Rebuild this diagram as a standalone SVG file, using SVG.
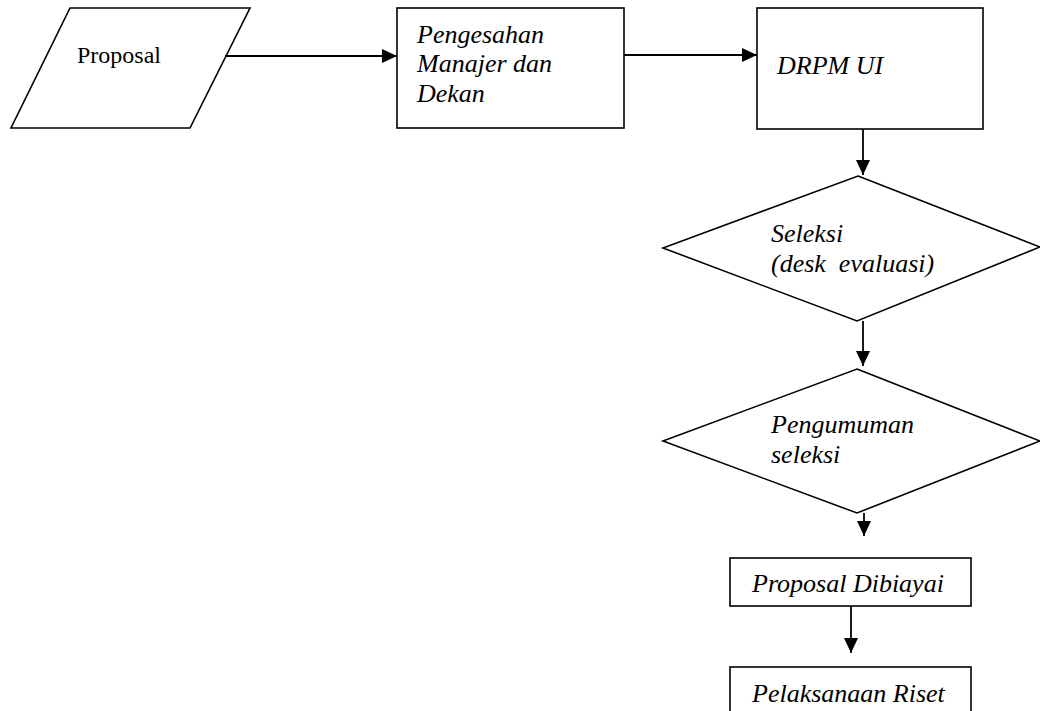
<svg xmlns="http://www.w3.org/2000/svg" width="1040" height="711" viewBox="0 0 1040 711">
<style>
.shape{fill:#fff;stroke:#000;stroke-width:1.6}
.conn{stroke:#000;stroke-width:1.8;fill:none}
.t{font-family:'Times New Roman','Liberation Serif',Tinos,'DejaVu Serif',serif;font-size:26px;fill:#000;font-style:italic}
.u{font-family:'Times New Roman','Liberation Serif',Tinos,'DejaVu Serif',serif;font-size:24px;fill:#000}
</style>
<defs>
<marker id="arr" markerUnits="userSpaceOnUse" markerWidth="16" markerHeight="15" refX="15" refY="7" orient="auto">
<path d="M0,0 L15,7 L0,14 z" fill="#000"/>
</marker>
</defs>
<rect width="1040" height="711" fill="#fff"/>
<g id="n1">
<polygon class="shape" points="70,8 250,8 190,128 11,128"/>
<text class="u" x="77" y="63">Proposal</text>
</g>
<g id="n2">
<rect class="shape" x="397" y="8" width="227" height="120"/>
<text class="t" x="417" y="43">Pengesahan</text>
<text class="t" x="417" y="72">Manajer dan</text>
<text class="t" x="417" y="102">Dekan</text>
</g>
<g id="n3">
<rect class="shape" x="757" y="8" width="226" height="121"/>
<text class="t" x="777" y="74">DRPM UI</text>
</g>
<g id="n4">
<polygon class="shape" points="858,176 1040,247 857,321 663,248"/>
<text class="t" x="771" y="242">Seleksi</text>
<text class="t" x="771" y="272" xml:space="preserve">(desk  evaluasi)</text>
</g>
<g id="n5">
<polygon class="shape" points="857,369 1040,441 857,513 663,441"/>
<text class="t" x="771" y="433">Pengumuman</text>
<text class="t" x="771" y="463">seleksi</text>
</g>
<g id="n6">
<rect class="shape" x="730" y="558" width="241" height="48"/>
<text class="t" x="752" y="592">Proposal Dibiayai</text>
</g>
<g id="n7">
<rect class="shape" x="730" y="667" width="241" height="60"/>
<text class="t" x="752" y="702">Pelaksanaan Riset</text>
</g>
<g id="connectors">
<line class="conn" x1="225" y1="56" x2="397" y2="56" marker-end="url(#arr)"/>
<line class="conn" x1="624" y1="55" x2="757" y2="55" marker-end="url(#arr)"/>
<line class="conn" x1="863" y1="129" x2="863" y2="175" marker-end="url(#arr)"/>
<line class="conn" x1="863" y1="321" x2="863" y2="366" marker-end="url(#arr)"/>
<line class="conn" x1="864" y1="513" x2="864" y2="536" marker-end="url(#arr)"/>
<line class="conn" x1="851" y1="606" x2="851" y2="653" marker-end="url(#arr)"/>
</g>
</svg>
